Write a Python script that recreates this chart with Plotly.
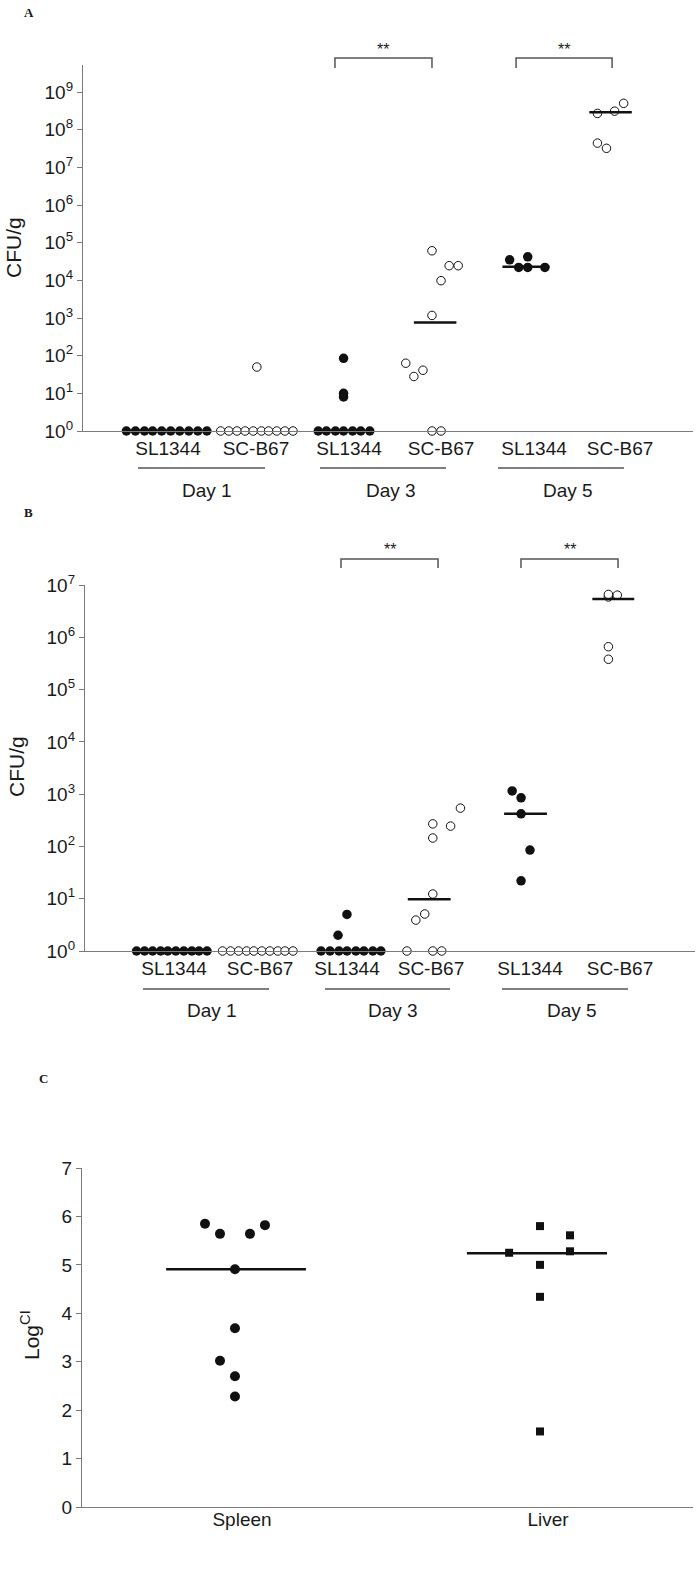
import plotly.graph_objects as go

W, H = 700, 1579
FONT = "Liberation Sans, Arial, sans-serif"
INK = "#1a1a1a"
AXIS = "#7a7a7a"
RULE = "#555555"

# ---------------- data ----------------
strain_labels = ["SL1344", "SC-B67", "SL1344", "SC-B67", "SL1344", "SC-B67"]
day_labels = ["Day 1", "Day 3", "Day 5"]

# Panel A: CFU/g
a_d1_sl1344 = [1, 1, 1, 1, 1, 1, 1, 1, 1, 1]
a_d1_scb67 = [1, 1, 1, 1, 1, 1, 1, 1, 1, 1, 50]
a_d3_sl1344 = [1, 1, 1, 1, 1, 1, 1, 85, 10, 8]
a_d3_scb67 = [61000, 24500, 24500, 9800, 1170, 63, 28, 41, 1, 1]
a_d5_sl1344 = [35000, 42000, 22000, 22000, 22000]
a_d5_scb67 = [2.7e8, 3.1e8, 5.0e8, 4.4e7, 3.2e7]
a_medians = [None, None, None, 760, 23000, 2.9e8]

# Panel B: CFU/g
b_d1_sl1344 = [1, 1, 1, 1, 1, 1, 1, 1, 1, 1]
b_d1_scb67 = [1, 1, 1, 1, 1, 1, 1, 1, 1, 1]
b_d3_sl1344 = [1, 1, 1, 1, 1, 1, 1, 1, 2, 5]
b_d3_scb67 = [1, 1, 1, 3.9, 5.1, 12.3, 145, 270, 245, 540]
b_d5_sl1344 = [1150, 850, 420, 85, 22]
b_d5_scb67 = [5.9e6, 6.6e6, 6.4e6, 6.6e5, 3.8e5]
b_medians = [None, None, None, 9.8, 420, 5.4e6]

# Panel C: Log CI
organs = ["Spleen", "Liver"]
c_spleen = [5.85, 5.64, 5.64, 5.82, 4.91, 3.69, 3.02, 2.70, 2.28]
c_liver = [5.80, 5.61, 5.25, 5.28, 5.00, 4.34, 1.56]
c_medians = [4.91, 5.24]

log_ticks = [1, 10, 100, 1e3, 1e4, 1e5, 1e6, 1e7, 1e8, 1e9]

# ---------------- layout helpers (positions only) ----------------
pos_a = [1, 1.973, 3.002, 4.020, 5.049, 6]
pos_b = [1, 1.964, 2.939, 3.881, 4.991, 6]
pos_c = [1, 2]

off_a = [
    [-0.46, -0.36, -0.26, -0.17, -0.07, 0.03, 0.13, 0.23, 0.33, 0.43],
    [-0.39, -0.30, -0.21, -0.12, -0.03, 0.06, 0.14, 0.23, 0.32, 0.41, 0.01],
    [-0.34, -0.25, -0.15, -0.06, 0.04, 0.13, 0.23, -0.06, -0.06, -0.06],
    [-0.10, 0.09, 0.19, 0.0, -0.10, -0.39, -0.30, -0.20, -0.10, 0.0],
    [-0.27, -0.07, -0.17, -0.07, 0.12],
    [-0.25, -0.06, 0.04, -0.25, -0.15],
]
off_b = [
    [-0.42, -0.33, -0.24, -0.15, -0.07, 0.02, 0.11, 0.20, 0.28, 0.37],
    [-0.42, -0.33, -0.24, -0.15, -0.07, 0.02, 0.11, 0.20, 0.28, 0.37],
    [-0.29, -0.19, -0.09, 0.0, 0.10, 0.19, 0.29, 0.38, -0.10, 0.0],
    [-0.27, 0.02, 0.12, -0.17, -0.07, 0.02, 0.02, 0.02, 0.22, 0.33],
    [-0.20, -0.10, -0.10, 0.0, -0.10],
    [-0.13, -0.13, -0.03, -0.13, -0.13],
]
off_c = [
    [-0.121, -0.072, 0.026, 0.075, -0.023, -0.023, -0.072, -0.023, -0.023],
    [-0.026, 0.072, -0.127, 0.072, -0.026, -0.026, -0.026],
]
med_span_a = [None, None, None, (-0.30, 0.17), (-0.35, 0.17), (-0.34, 0.13)]
med_span_b = [None, None, None, (-0.26, 0.22), (-0.29, 0.19), (-0.31, 0.16)]
med_span_c = [(-0.248, 0.209), (-0.265, 0.193)]

# underline extents and day-label centres (x data units), brackets
under_a = [(0.668, 2.073), (2.681, 4.075), (4.650, 6.044)]
daylab_a = [1.431, 3.467, 5.425]
brack_a = [(2.847, 3.920), (4.850, 5.912)]
under_b = [(0.652, 2.065), (2.693, 4.094), (4.677, 6.090)]
daylab_b = [1.426, 3.455, 5.462]
brack_b = [(2.872, 3.960), (4.890, 5.978)]


def py(px):
    return 1 - px / H


def px_x(px):
    return px / W


fig = go.Figure()

FILLED = dict(color="#111111", size=9.5, line=dict(width=0))
OPEN = dict(color="white", size=8.5, line=dict(color="#111111", width=1))


def add_points(xa, ya, x0, offs, vals, marker, symbol="circle"):
    fig.add_trace(go.Scatter(
        x=[x0 + o for o in offs], y=vals, mode="markers",
        marker=dict(symbol=symbol, **marker), cliponaxis=False,
        xaxis=xa, yaxis=ya, showlegend=False, hoverinfo="skip"))


def add_median(xa, ya, x0, span, val):
    fig.add_trace(go.Scatter(
        x=[x0 + span[0], x0 + span[1]], y=[val, val], mode="lines",
        line=dict(color="#111111", width=2.5), cliponaxis=False,
        xaxis=xa, yaxis=ya, showlegend=False, hoverinfo="skip"))


groups_a = [a_d1_sl1344, a_d1_scb67, a_d3_sl1344, a_d3_scb67, a_d5_sl1344, a_d5_scb67]
groups_b = [b_d1_sl1344, b_d1_scb67, b_d3_sl1344, b_d3_scb67, b_d5_sl1344, b_d5_scb67]

for i, vals in enumerate(groups_a):
    add_points("x", "y", pos_a[i], off_a[i], vals, FILLED if i % 2 == 0 else OPEN)
    if a_medians[i] is not None:
        add_median("x", "y", pos_a[i], med_span_a[i], a_medians[i])

for i, vals in enumerate(groups_b):
    add_points("x2", "y2", pos_b[i], off_b[i], vals, FILLED if i % 2 == 0 else OPEN)
    if b_medians[i] is not None:
        add_median("x2", "y2", pos_b[i], med_span_b[i], b_medians[i])

add_points("x3", "y3", pos_c[0], off_c[0], c_spleen, dict(FILLED, size=10))
add_points("x3", "y3", pos_c[1], off_c[1], c_liver, dict(FILLED, size=8), symbol="square")
for i in range(2):
    add_median("x3", "y3", pos_c[i], med_span_c[i], c_medians[i])

# ---------------- axes ----------------
tickfont = dict(family=FONT, size=19, color=INK)
ycommon = dict(showgrid=False, zeroline=False, showline=True, linecolor=AXIS,
               linewidth=1.3, ticks="outside", ticklen=5, tickwidth=1.3,
               tickcolor=AXIS, tickfont=tickfont, fixedrange=True,
               automargin=False)
xcommon = dict(showgrid=False, zeroline=False, showline=True, linecolor=AXIS,
               linewidth=1.3, ticks="", tickfont=tickfont, fixedrange=True,
               automargin=False)

fig.update_layout(
    width=W, height=H, margin=dict(l=0, r=0, t=0, b=0, pad=0),
    paper_bgcolor="white", plot_bgcolor="white", showlegend=False,
    xaxis=dict(xcommon, domain=[px_x(83), px_x(693)], range=[0.060, 6.807],
               tickvals=pos_a, ticktext=strain_labels, anchor="y"),
    yaxis=dict(ycommon, domain=[py(431), py(65)], type="log", range=[0, 9.717],
               tickvals=log_ticks,
               ticktext=["10<sup>%d</sup>" % k for k in range(10)], anchor="x"),
    xaxis2=dict(xcommon, domain=[px_x(85), px_x(695)], range=[0.002, 6.841],
                tickvals=pos_b, ticktext=strain_labels, anchor="y2"),
    yaxis2=dict(ycommon, domain=[py(951), py(585)], type="log", range=[0, 7],
                tickvals=log_ticks[:8],
                ticktext=["10<sup>%d</sup>" % k for k in range(8)], anchor="x2"),
    xaxis3=dict(xcommon, domain=[px_x(82), px_x(693)], range=[0.477, 2.474],
                tickvals=pos_c, ticktext=organs, anchor="y3",
                ticklabelstandoff=-5),
    yaxis3=dict(ycommon, domain=[py(1507), py(1168)], range=[0, 7],
                tickvals=list(range(8)), anchor="x3"),
)

# ---------------- annotations & shapes ----------------
ann = []
shapes = []


def text(x, y, s, size=19, xref="paper", angle=0, family=FONT, color=INK):
    ann.append(dict(x=x, y=y, xref=xref, yref="paper", text=s, showarrow=False,
                    xanchor="center", yanchor="middle", textangle=angle,
                    font=dict(family=family, size=size, color=color)))


# panel letters
text(px_x(29), py(12), "<b>A</b>", size=13, family="Liberation Serif, serif")
text(px_x(29), py(512), "<b>B</b>", size=13, family="Liberation Serif, serif")
text(px_x(43), py(1078), "<b>C</b>", size=13, family="Liberation Serif, serif")

# y titles
text(px_x(14), py(248), "CFU/g", size=21, angle=-90)
text(px_x(16), py(767), "CFU/g", size=21, angle=-90)
text(px_x(30), py(1335), "Log<sup>CI</sup>", size=21, angle=-90)

# day underlines and labels
for (x0, x1), xc, d in zip(under_a, daylab_a, day_labels):
    shapes.append(dict(type="line", xref="x", yref="paper", x0=x0, x1=x1,
                       y0=py(468), y1=py(468), line=dict(color=RULE, width=1.5)))
    text(xc, py(490), d, xref="x")
for (x0, x1), xc, d in zip(under_b, daylab_b, day_labels):
    shapes.append(dict(type="line", xref="x2", yref="paper", x0=x0, x1=x1,
                       y0=py(989), y1=py(989), line=dict(color=RULE, width=1.5)))
    text(xc, py(1010), d, xref="x2")

# significance brackets
for xr, brs, top, leg, star in (("x", brack_a, 58, 68, 49), ("x2", brack_b, 559, 568, 550)):
    for x0, x1 in brs:
        shapes.append(dict(type="path", xref=xr, yref="paper",
                           path="M %f,%f L %f,%f L %f,%f L %f,%f" % (
                               x0, py(leg), x0, py(top), x1, py(top), x1, py(leg)),
                           line=dict(color=RULE, width=1.5)))
        text((x0 + x1) / 2, py(star), "**", size=16, xref=xr)

fig.update_layout(annotations=ann, shapes=shapes)

# drop the default page margin so the figure sits at the window origin
fig.write_html("out.html", config={"displayModeBar": False},
               post_script="document.body.style.margin='0';"
                           "document.body.style.overflow='hidden';")
